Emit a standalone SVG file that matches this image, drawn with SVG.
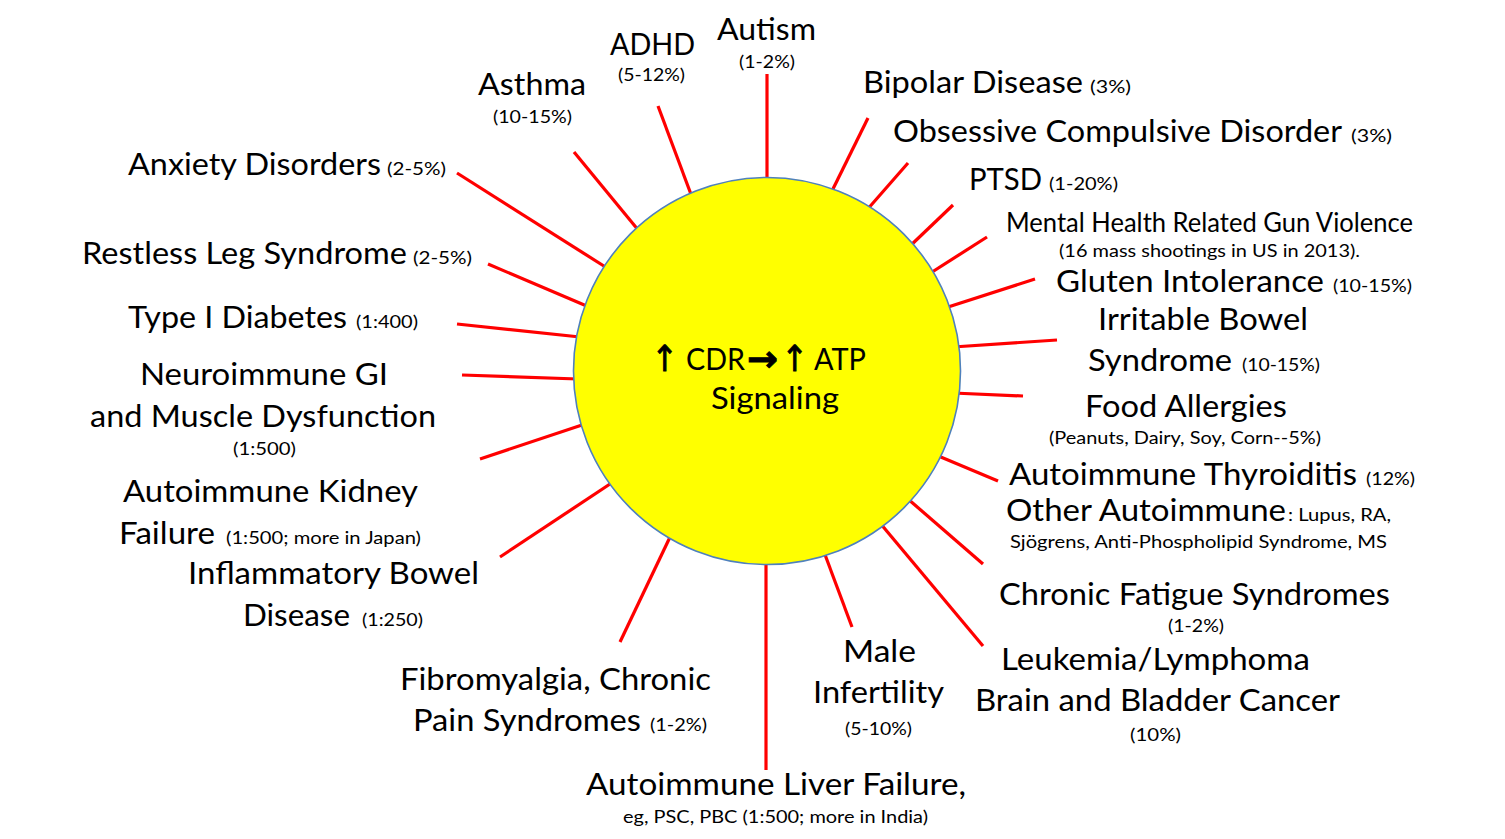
<svg xmlns="http://www.w3.org/2000/svg" width="1505" height="839" viewBox="0 0 1505 839">
<style>
text{font-family:Lato,"Open Sans","Liberation Sans",sans-serif;fill:#000}
.b{font-size:31px}
.s{font-size:18px}
.m{font-size:26px}
.sym{font-family:"DejaVu Sans",sans-serif;font-size:36px;stroke:#000;stroke-width:0.9}
.up{font-family:"DejaVu Sans",sans-serif;font-size:36px;stroke:#000;stroke-width:0.8}
.ray{stroke:#FF0000;stroke-width:3.2;stroke-linecap:butt;fill:none}
</style>
<rect width="1505" height="839" fill="#FFFFFF"/>
<g id="connectors">
<line class="ray" x1="767" y1="74" x2="767" y2="182"/>
<line class="ray" x1="658" y1="106" x2="692" y2="197"/>
<line class="ray" x1="574" y1="152" x2="639" y2="231"/>
<line class="ray" x1="457" y1="173" x2="607" y2="268"/>
<line class="ray" x1="488" y1="264" x2="589" y2="307"/>
<line class="ray" x1="457" y1="324" x2="580" y2="337"/>
<line class="ray" x1="462" y1="375" x2="578" y2="379"/>
<line class="ray" x1="480" y1="459" x2="585" y2="424"/>
<line class="ray" x1="500" y1="557" x2="613" y2="482"/>
<line class="ray" x1="620" y1="642" x2="671" y2="535"/>
<line class="ray" x1="766" y1="560" x2="766" y2="770"/>
<line class="ray" x1="824" y1="552" x2="852" y2="627"/>
<line class="ray" x1="880" y1="523" x2="983" y2="646"/>
<line class="ray" x1="908" y1="499" x2="983" y2="564"/>
<line class="ray" x1="936" y1="455" x2="998" y2="481"/>
<line class="ray" x1="953" y1="393" x2="1023" y2="396"/>
<line class="ray" x1="953" y1="347" x2="1057" y2="340"/>
<line class="ray" x1="945" y1="308" x2="1035" y2="279"/>
<line class="ray" x1="929" y1="274" x2="987" y2="237"/>
<line class="ray" x1="909" y1="247" x2="953" y2="205"/>
<line class="ray" x1="866" y1="211" x2="908" y2="163"/>
<line class="ray" x1="831" y1="193" x2="868" y2="118"/>
</g>
<g id="center">
<circle cx="767" cy="371" r="193.5" fill="#FFFF00" stroke="#4F81BD" stroke-width="1.6"/>
<text class="up" x="651" y="371" textLength="27" lengthAdjust="spacingAndGlyphs">↑</text>
<text class="b" x="686" y="370" textLength="59" lengthAdjust="spacingAndGlyphs">CDR</text>
<text class="sym" x="747" y="371" font-weight="bold" textLength="31" lengthAdjust="spacingAndGlyphs">→</text>
<text class="up" x="781" y="371" textLength="27" lengthAdjust="spacingAndGlyphs">↑</text>
<text class="b" x="814" y="370" textLength="52" lengthAdjust="spacingAndGlyphs">ATP</text>
<text class="b" x="711" y="409" textLength="128" lengthAdjust="spacingAndGlyphs">Signaling</text>
</g>
<g id="autism">
<text class="b" x="717" y="40" textLength="99" lengthAdjust="spacingAndGlyphs">Autism</text>
<text class="s" x="739" y="68" textLength="56" lengthAdjust="spacingAndGlyphs">(1-2%)</text>
</g>
<g id="adhd">
<text class="b" x="610" y="55" textLength="85" lengthAdjust="spacingAndGlyphs">ADHD</text>
<text class="s" x="618" y="81" textLength="67" lengthAdjust="spacingAndGlyphs">(5-12%)</text>
</g>
<g id="asthma">
<text class="b" x="478" y="95" textLength="108" lengthAdjust="spacingAndGlyphs">Asthma</text>
<text class="s" x="493" y="123" textLength="79" lengthAdjust="spacingAndGlyphs">(10-15%)</text>
</g>
<g id="anxiety">
<text class="b" x="128" y="175" textLength="253" lengthAdjust="spacingAndGlyphs">Anxiety Disorders</text>
<text class="s" x="387" y="175" textLength="59" lengthAdjust="spacingAndGlyphs">(2-5%)</text>
</g>
<g id="restless-leg">
<text class="b" x="82" y="264" textLength="325" lengthAdjust="spacingAndGlyphs">Restless Leg Syndrome</text>
<text class="s" x="413" y="264" textLength="59" lengthAdjust="spacingAndGlyphs">(2-5%)</text>
</g>
<g id="type1-diabetes">
<text class="b" x="128" y="328" textLength="219" lengthAdjust="spacingAndGlyphs">Type I Diabetes</text>
<text class="s" x="356" y="328" textLength="62" lengthAdjust="spacingAndGlyphs">(1:400)</text>
</g>
<g id="neuroimmune">
<text class="b" x="140" y="385" textLength="248" lengthAdjust="spacingAndGlyphs">Neuroimmune GI</text>
<text class="b" x="90" y="427" textLength="346" lengthAdjust="spacingAndGlyphs">and Muscle Dysfunction</text>
<text class="s" x="233" y="455" textLength="63" lengthAdjust="spacingAndGlyphs">(1:500)</text>
</g>
<g id="kidney">
<text class="b" x="123" y="502" textLength="295" lengthAdjust="spacingAndGlyphs">Autoimmune Kidney</text>
<text class="b" x="119" y="544" textLength="96" lengthAdjust="spacingAndGlyphs">Failure</text>
<text class="s" x="226" y="544" textLength="195" lengthAdjust="spacingAndGlyphs">(1:500; more in Japan)</text>
</g>
<g id="ibd">
<text class="b" x="188" y="584" textLength="291" lengthAdjust="spacingAndGlyphs">Inflammatory Bowel</text>
<text class="b" x="243" y="626" textLength="107" lengthAdjust="spacingAndGlyphs">Disease</text>
<text class="s" x="362" y="626" textLength="61" lengthAdjust="spacingAndGlyphs">(1:250)</text>
</g>
<g id="fibromyalgia">
<text class="b" x="400" y="690" textLength="311" lengthAdjust="spacingAndGlyphs">Fibromyalgia, Chronic</text>
<text class="b" x="413" y="731" textLength="228" lengthAdjust="spacingAndGlyphs">Pain Syndromes</text>
<text class="s" x="650" y="731" textLength="57" lengthAdjust="spacingAndGlyphs">(1-2%)</text>
</g>
<g id="liver">
<text class="b" x="586" y="795" textLength="380" lengthAdjust="spacingAndGlyphs">Autoimmune Liver Failure,</text>
<text class="s" x="623" y="823" textLength="305" lengthAdjust="spacingAndGlyphs">eg, PSC, PBC (1:500; more in India)</text>
</g>
<g id="male-infertility">
<text class="b" x="843" y="662" textLength="73" lengthAdjust="spacingAndGlyphs">Male</text>
<text class="b" x="813" y="703" textLength="131" lengthAdjust="spacingAndGlyphs">Infertility</text>
<text class="s" x="845" y="735" textLength="67" lengthAdjust="spacingAndGlyphs">(5-10%)</text>
</g>
<g id="leukemia">
<text class="b" x="1001" y="670" textLength="309" lengthAdjust="spacingAndGlyphs">Leukemia/Lymphoma</text>
<text class="b" x="975" y="711" textLength="365" lengthAdjust="spacingAndGlyphs">Brain and Bladder Cancer</text>
<text class="s" x="1130" y="741" textLength="51" lengthAdjust="spacingAndGlyphs">(10%)</text>
</g>
<g id="chronic-fatigue">
<text class="b" x="999" y="605" textLength="391" lengthAdjust="spacingAndGlyphs">Chronic Fatigue Syndromes</text>
<text class="s" x="1168" y="632" textLength="56" lengthAdjust="spacingAndGlyphs">(1-2%)</text>
</g>
<g id="thyroiditis">
<text class="b" x="1009" y="485" textLength="348" lengthAdjust="spacingAndGlyphs">Autoimmune Thyroiditis</text>
<text class="s" x="1366" y="485" textLength="49" lengthAdjust="spacingAndGlyphs">(12%)</text>
<text class="b" x="1006" y="521" textLength="280" lengthAdjust="spacingAndGlyphs">Other Autoimmune</text>
<text class="s" x="1288" y="521" textLength="103" lengthAdjust="spacingAndGlyphs">: Lupus, RA,</text>
<text class="s" x="1010" y="548" textLength="377" lengthAdjust="spacingAndGlyphs">Sjögrens, Anti-Phospholipid Syndrome, MS</text>
</g>
<g id="food-allergies">
<text class="b" x="1085" y="417" textLength="202" lengthAdjust="spacingAndGlyphs">Food Allergies</text>
<text class="s" x="1049" y="444" textLength="272" lengthAdjust="spacingAndGlyphs">(Peanuts, Dairy, Soy, Corn--5%)</text>
</g>
<g id="ibs">
<text class="b" x="1098" y="330" textLength="210" lengthAdjust="spacingAndGlyphs">Irritable Bowel</text>
<text class="b" x="1088" y="371" textLength="144" lengthAdjust="spacingAndGlyphs">Syndrome</text>
<text class="s" x="1242" y="371" textLength="78" lengthAdjust="spacingAndGlyphs">(10-15%)</text>
</g>
<g id="gluten">
<text class="b" x="1056" y="292" textLength="268" lengthAdjust="spacingAndGlyphs">Gluten Intolerance</text>
<text class="s" x="1333" y="292" textLength="79" lengthAdjust="spacingAndGlyphs">(10-15%)</text>
</g>
<g id="gun-violence">
<text class="m" x="1006" y="232" textLength="407" lengthAdjust="spacingAndGlyphs">Mental Health Related Gun Violence</text>
<text class="s" x="1059" y="257" textLength="301" lengthAdjust="spacingAndGlyphs">(16 mass shootings in US in 2013).</text>
</g>
<g id="ptsd">
<text class="b" x="969" y="190" textLength="73" lengthAdjust="spacingAndGlyphs">PTSD</text>
<text class="s" x="1049" y="190" textLength="69" lengthAdjust="spacingAndGlyphs">(1-20%)</text>
</g>
<g id="ocd">
<text class="b" x="893" y="142" textLength="449" lengthAdjust="spacingAndGlyphs">Obsessive Compulsive Disorder</text>
<text class="s" x="1351" y="142" textLength="41" lengthAdjust="spacingAndGlyphs">(3%)</text>
</g>
<g id="bipolar">
<text class="b" x="863" y="93" textLength="220" lengthAdjust="spacingAndGlyphs">Bipolar Disease</text>
<text class="s" x="1090" y="93" textLength="41" lengthAdjust="spacingAndGlyphs">(3%)</text>
</g>
</svg>
